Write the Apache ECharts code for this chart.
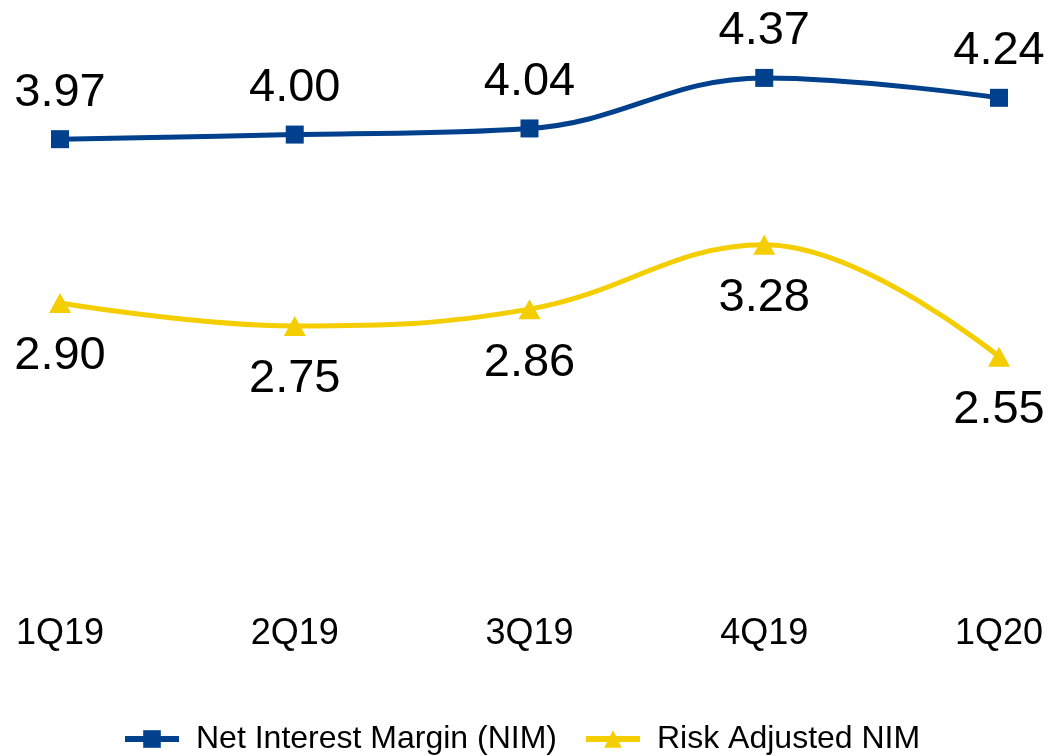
<!DOCTYPE html>
<html>
<head>
<meta charset="utf-8">
<script src="https://cdn.jsdelivr.net/npm/echarts@6/dist/echarts.min.js"></script>
<style>
html,body{margin:0;padding:0;background:#fff;}
#main{width:1053px;height:756px;}
</style>
</head>
<body>
<div id="main"></div>
<script>
// 季度
var quarters = ['1Q19', '2Q19', '3Q19', '4Q19', '1Q20'];
// 净息差
var nimValues = [3.97, 4.00, 4.04, 4.37, 4.24];
// 风险调整后净息差
var riskNimValues = [2.90, 2.75, 2.86, 3.28, 2.55];

var FONT = '"Liberation Sans", Arial, sans-serif';
var BLUE = '#00408C';
var YELLOW = '#F4CE00';

var myChart = echarts.init(document.getElementById('main'));
var option = {
    backgroundColor: '#fff',
    animation: false,
    textStyle: {fontFamily: FONT},
    grid: {
        left: 60,
        right: 54,
        top: 58,
        bottom: 162,
        containLabel: false,
        outerBoundsMode: 'none'
    },
    legend: {
        left: 117,
        top: 718,
        itemWidth: 54,
        itemHeight: 22,
        itemGap: 26,
        lineStyle: {width: 6},
        textStyle: {
            fontSize: 32,
            color: '#000',
            fontFamily: FONT,
            padding: [0, 0, 0, 12]
        },
        data: ['Net Interest Margin (NIM)', 'Risk Adjusted NIM']
    },
    xAxis: {
        type: 'category',
        boundaryGap: false,
        data: quarters,
        axisLine: {show: false},
        axisTick: {show: false},
        splitLine: {show: false},
        axisLabel: {
            margin: 22,
            fontSize: 36,
            color: '#000',
            fontFamily: FONT
        }
    },
    yAxis: {
        type: 'value',
        min: 1,
        max: 4.5,
        show: false
    },
    series: [
        {
            name: 'Net Interest Margin (NIM)',
            type: 'line',
            smooth: 0.4,
            symbol: 'rect',
            symbolSize: 18,
            data: nimValues,
            lineStyle: {color: BLUE, width: 5},
            itemStyle: {color: BLUE},
            label: {
                show: true,
                position: 'top',
                distance: 14,
                fontSize: 47,
                color: '#000',
                fontFamily: FONT,
                formatter: function (p) { return p.value.toFixed(2); }
            }
        },
        {
            name: 'Risk Adjusted NIM',
            type: 'line',
            smooth: 0.4,
            symbol: 'triangle',
            symbolSize: [22, 20],
            data: riskNimValues,
            lineStyle: {color: YELLOW, width: 5},
            itemStyle: {color: YELLOW},
            label: {
                show: true,
                position: 'bottom',
                distance: 20,
                fontSize: 47,
                color: '#000',
                fontFamily: FONT,
                formatter: function (p) { return p.value.toFixed(2); }
            }
        }
    ]
};
myChart.setOption(option);
</script>
</body>
</html>
